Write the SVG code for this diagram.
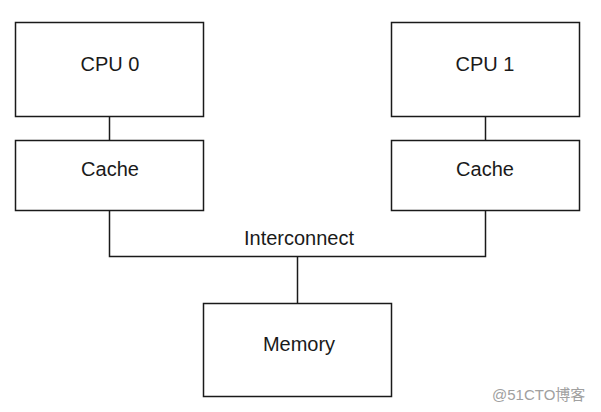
<svg xmlns="http://www.w3.org/2000/svg" width="601" height="412" viewBox="0 0 601 412">
<style>
.box{fill:#fff;stroke:#1a1a1a;stroke-width:1.5}
.lbl{font-family:"Liberation Sans",Arial,sans-serif;font-size:20px;fill:#1a1a1a;text-anchor:middle}
.wire{fill:none;stroke:#1a1a1a;stroke-width:1.5}
.wm{font-family:"Liberation Sans","Noto Sans CJK SC",sans-serif;font-size:15px;fill:#a0a0a0}
</style>
<rect width="601" height="412" fill="#fff"/>
<g id="connectors">
<line class="wire" x1="109.5" y1="116.5" x2="109.5" y2="140"/>
<line class="wire" x1="485.5" y1="116.5" x2="485.5" y2="140"/>
<polyline class="wire" points="109.5,210.5 109.5,256.5 485.5,256.5 485.5,210.5"/>
<line class="wire" x1="297.5" y1="256.5" x2="297.5" y2="303.5"/>
</g>
<g id="cpu0">
<rect class="box" x="15.5" y="22.5" width="188" height="94"/>
<text class="lbl" x="110" y="70.5">CPU 0</text>
</g>
<g id="cache0">
<rect class="box" x="15.5" y="140.5" width="188" height="70"/>
<text class="lbl" x="110" y="175.5">Cache</text>
</g>
<g id="cpu1">
<rect class="box" x="391.5" y="22.5" width="188" height="94"/>
<text class="lbl" x="485" y="70.5">CPU 1</text>
</g>
<g id="cache1">
<rect class="box" x="391.5" y="140.5" width="188" height="70"/>
<text class="lbl" x="485" y="175.5">Cache</text>
</g>
<g id="interconnect">
<text class="lbl" x="299" y="244.5">Interconnect</text>
</g>
<g id="memory">
<rect class="box" x="203.5" y="303.5" width="188" height="93"/>
<text class="lbl" x="299" y="351">Memory</text>
</g>
<text class="wm" x="492" y="400">@51CTO博客</text>
</svg>
